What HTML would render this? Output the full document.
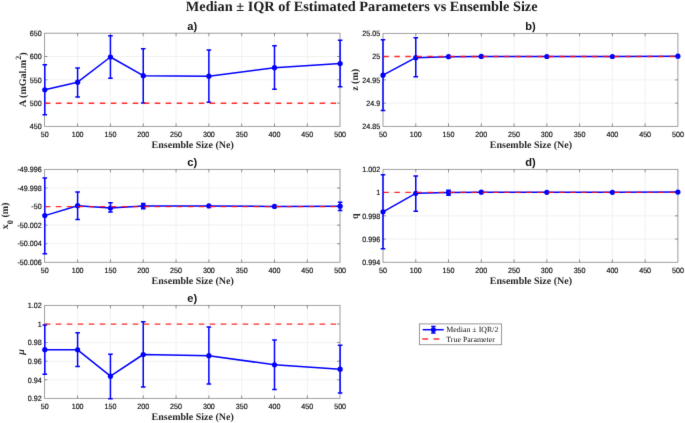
<!DOCTYPE html>
<html><head><meta charset="utf-8"><title>Median ± IQR of Estimated Parameters vs Ensemble Size</title>
<style>html,body{margin:0;padding:0;background:#fff}svg{display:block}</style></head>
<body>
<svg width="685" height="423" viewBox="0 0 685 423">
<defs><filter id="soft" x="0" y="0" width="685" height="423" filterUnits="userSpaceOnUse" color-interpolation-filters="sRGB"><feConvolveMatrix order="3" kernelMatrix="0.0064 0.0672 0.0064 0.0672 0.7056 0.0672 0.0064 0.0672 0.0064" edgeMode="duplicate" preserveAlpha="true"/></filter></defs>
<rect width="685" height="423" fill="#fff"/>
<g filter="url(#soft)" text-rendering="geometricPrecision">
<rect width="685" height="423" fill="#fff"/>
<text x="361.7" y="11.3" text-anchor="middle" font-family="'Liberation Serif',serif" font-weight="bold" font-size="14.3" fill="#1a1a1a">Median ± IQR of Estimated Parameters vs Ensemble Size</text>
<g>
<line x1="44.80" y1="33.2" x2="44.80" y2="126.4" stroke="#e8e8e8" stroke-width="0.6"/>
<line x1="77.61" y1="33.2" x2="77.61" y2="126.4" stroke="#e8e8e8" stroke-width="0.6"/>
<line x1="110.43" y1="33.2" x2="110.43" y2="126.4" stroke="#e8e8e8" stroke-width="0.6"/>
<line x1="143.24" y1="33.2" x2="143.24" y2="126.4" stroke="#e8e8e8" stroke-width="0.6"/>
<line x1="176.05" y1="33.2" x2="176.05" y2="126.4" stroke="#e8e8e8" stroke-width="0.6"/>
<line x1="208.87" y1="33.2" x2="208.87" y2="126.4" stroke="#e8e8e8" stroke-width="0.6"/>
<line x1="241.68" y1="33.2" x2="241.68" y2="126.4" stroke="#e8e8e8" stroke-width="0.6"/>
<line x1="274.49" y1="33.2" x2="274.49" y2="126.4" stroke="#e8e8e8" stroke-width="0.6"/>
<line x1="307.31" y1="33.2" x2="307.31" y2="126.4" stroke="#e8e8e8" stroke-width="0.6"/>
<line x1="340.12" y1="33.2" x2="340.12" y2="126.4" stroke="#e8e8e8" stroke-width="0.6"/>
<line x1="44.5" y1="126.40" x2="340.0" y2="126.40" stroke="#e8e8e8" stroke-width="0.6"/>
<line x1="44.5" y1="103.10" x2="340.0" y2="103.10" stroke="#e8e8e8" stroke-width="0.6"/>
<line x1="44.5" y1="79.80" x2="340.0" y2="79.80" stroke="#e8e8e8" stroke-width="0.6"/>
<line x1="44.5" y1="56.50" x2="340.0" y2="56.50" stroke="#e8e8e8" stroke-width="0.6"/>
<line x1="44.5" y1="33.20" x2="340.0" y2="33.20" stroke="#e8e8e8" stroke-width="0.6"/>
<rect x="44.5" y="33.2" width="295.5" height="93.2" fill="none" stroke="#9a9a9a" stroke-width="0.9"/>
<text transform="translate(44.80 136.6) scale(0.93 1)" text-anchor="middle" font-family="'Liberation Sans',sans-serif" font-size="7.7" fill="#101010" stroke="#101010" stroke-width="0.18">50</text>
<line x1="77.61" y1="126.4" x2="77.61" y2="123.4" stroke="#262626" stroke-width="0.48"/>
<line x1="77.61" y1="33.2" x2="77.61" y2="36.2" stroke="#262626" stroke-width="0.48"/>
<text transform="translate(77.61 136.6) scale(0.93 1)" text-anchor="middle" font-family="'Liberation Sans',sans-serif" font-size="7.7" fill="#101010" stroke="#101010" stroke-width="0.18">100</text>
<line x1="110.43" y1="126.4" x2="110.43" y2="123.4" stroke="#262626" stroke-width="0.48"/>
<line x1="110.43" y1="33.2" x2="110.43" y2="36.2" stroke="#262626" stroke-width="0.48"/>
<text transform="translate(110.43 136.6) scale(0.93 1)" text-anchor="middle" font-family="'Liberation Sans',sans-serif" font-size="7.7" fill="#101010" stroke="#101010" stroke-width="0.18">150</text>
<line x1="143.24" y1="126.4" x2="143.24" y2="123.4" stroke="#262626" stroke-width="0.48"/>
<line x1="143.24" y1="33.2" x2="143.24" y2="36.2" stroke="#262626" stroke-width="0.48"/>
<text transform="translate(143.24 136.6) scale(0.93 1)" text-anchor="middle" font-family="'Liberation Sans',sans-serif" font-size="7.7" fill="#101010" stroke="#101010" stroke-width="0.18">200</text>
<line x1="176.05" y1="126.4" x2="176.05" y2="123.4" stroke="#262626" stroke-width="0.48"/>
<line x1="176.05" y1="33.2" x2="176.05" y2="36.2" stroke="#262626" stroke-width="0.48"/>
<text transform="translate(176.05 136.6) scale(0.93 1)" text-anchor="middle" font-family="'Liberation Sans',sans-serif" font-size="7.7" fill="#101010" stroke="#101010" stroke-width="0.18">250</text>
<line x1="208.87" y1="126.4" x2="208.87" y2="123.4" stroke="#262626" stroke-width="0.48"/>
<line x1="208.87" y1="33.2" x2="208.87" y2="36.2" stroke="#262626" stroke-width="0.48"/>
<text transform="translate(208.87 136.6) scale(0.93 1)" text-anchor="middle" font-family="'Liberation Sans',sans-serif" font-size="7.7" fill="#101010" stroke="#101010" stroke-width="0.18">300</text>
<line x1="241.68" y1="126.4" x2="241.68" y2="123.4" stroke="#262626" stroke-width="0.48"/>
<line x1="241.68" y1="33.2" x2="241.68" y2="36.2" stroke="#262626" stroke-width="0.48"/>
<text transform="translate(241.68 136.6) scale(0.93 1)" text-anchor="middle" font-family="'Liberation Sans',sans-serif" font-size="7.7" fill="#101010" stroke="#101010" stroke-width="0.18">350</text>
<line x1="274.49" y1="126.4" x2="274.49" y2="123.4" stroke="#262626" stroke-width="0.48"/>
<line x1="274.49" y1="33.2" x2="274.49" y2="36.2" stroke="#262626" stroke-width="0.48"/>
<text transform="translate(274.49 136.6) scale(0.93 1)" text-anchor="middle" font-family="'Liberation Sans',sans-serif" font-size="7.7" fill="#101010" stroke="#101010" stroke-width="0.18">400</text>
<line x1="307.31" y1="126.4" x2="307.31" y2="123.4" stroke="#262626" stroke-width="0.48"/>
<line x1="307.31" y1="33.2" x2="307.31" y2="36.2" stroke="#262626" stroke-width="0.48"/>
<text transform="translate(307.31 136.6) scale(0.93 1)" text-anchor="middle" font-family="'Liberation Sans',sans-serif" font-size="7.7" fill="#101010" stroke="#101010" stroke-width="0.18">450</text>
<text transform="translate(340.12 136.6) scale(0.93 1)" text-anchor="middle" font-family="'Liberation Sans',sans-serif" font-size="7.7" fill="#101010" stroke="#101010" stroke-width="0.18">500</text>
<text transform="translate(41.7 129.10) scale(0.93 1)" text-anchor="end" font-family="'Liberation Sans',sans-serif" font-size="7.7" fill="#101010" stroke="#101010" stroke-width="0.18">450</text>
<line x1="44.5" y1="103.10" x2="47.5" y2="103.10" stroke="#262626" stroke-width="0.48"/>
<line x1="340.0" y1="103.10" x2="337.0" y2="103.10" stroke="#262626" stroke-width="0.48"/>
<text transform="translate(41.7 105.80) scale(0.93 1)" text-anchor="end" font-family="'Liberation Sans',sans-serif" font-size="7.7" fill="#101010" stroke="#101010" stroke-width="0.18">500</text>
<line x1="44.5" y1="79.80" x2="47.5" y2="79.80" stroke="#262626" stroke-width="0.48"/>
<line x1="340.0" y1="79.80" x2="337.0" y2="79.80" stroke="#262626" stroke-width="0.48"/>
<text transform="translate(41.7 82.50) scale(0.93 1)" text-anchor="end" font-family="'Liberation Sans',sans-serif" font-size="7.7" fill="#101010" stroke="#101010" stroke-width="0.18">550</text>
<line x1="44.5" y1="56.50" x2="47.5" y2="56.50" stroke="#262626" stroke-width="0.48"/>
<line x1="340.0" y1="56.50" x2="337.0" y2="56.50" stroke="#262626" stroke-width="0.48"/>
<text transform="translate(41.7 59.20) scale(0.93 1)" text-anchor="end" font-family="'Liberation Sans',sans-serif" font-size="7.7" fill="#101010" stroke="#101010" stroke-width="0.18">600</text>
<text transform="translate(41.7 35.90) scale(0.93 1)" text-anchor="end" font-family="'Liberation Sans',sans-serif" font-size="7.7" fill="#101010" stroke="#101010" stroke-width="0.18">650</text>
<path d="M44.80 64.8V114.7M42.50 64.8H47.10M42.50 114.7H47.10" stroke="#0000ff" stroke-width="1.5" fill="none"/>
<path d="M77.61 68.1V96.9M75.31 68.1H79.91M75.31 96.9H79.91" stroke="#0000ff" stroke-width="1.5" fill="none"/>
<path d="M110.43 35.7V78.3M108.13 35.7H112.73M108.13 78.3H112.73" stroke="#0000ff" stroke-width="1.5" fill="none"/>
<path d="M143.24 48.7V103M140.94 48.7H145.54M140.94 103H145.54" stroke="#0000ff" stroke-width="1.5" fill="none"/>
<path d="M208.87 50V102.3M206.57 50H211.17M206.57 102.3H211.17" stroke="#0000ff" stroke-width="1.5" fill="none"/>
<path d="M274.49 45.8V89.3M272.19 45.8H276.79M272.19 89.3H276.79" stroke="#0000ff" stroke-width="1.5" fill="none"/>
<path d="M340.12 40.3V86.7M337.82 40.3H342.42M337.82 86.7H342.42" stroke="#0000ff" stroke-width="1.5" fill="none"/>
<polyline points="44.80,89.8 77.61,82.2 110.43,57 143.24,75.7 208.87,76.2 274.49,67.7 340.12,63.5" fill="none" stroke="#0000ff" stroke-width="1.5" stroke-linejoin="round"/>
<circle cx="44.80" cy="89.8" r="2.6" fill="#0000ff"/>
<circle cx="77.61" cy="82.2" r="2.6" fill="#0000ff"/>
<circle cx="110.43" cy="57" r="2.6" fill="#0000ff"/>
<circle cx="143.24" cy="75.7" r="2.6" fill="#0000ff"/>
<circle cx="208.87" cy="76.2" r="2.6" fill="#0000ff"/>
<circle cx="274.49" cy="67.7" r="2.6" fill="#0000ff"/>
<circle cx="340.12" cy="63.5" r="2.6" fill="#0000ff"/>
<line x1="44.85" y1="103.25" x2="340.0" y2="103.25" stroke="#ff0c0c" stroke-opacity="0.86" stroke-width="1.3" stroke-dasharray="5.5 5.49"/>
<text x="192.2" y="29.9" text-anchor="middle" font-family="'Liberation Sans',sans-serif" font-weight="bold" font-size="11.1" fill="#111">a)</text>
<text x="192.7" y="147.9" text-anchor="middle" font-family="'Liberation Serif',serif" font-weight="bold" font-size="10" fill="#262626">Ensemble Size (Ne)</text>
<text transform="translate(25.5 79.8) rotate(-90)" text-anchor="middle" font-family="'Liberation Serif',serif" font-weight="bold" font-size="10" fill="#262626">A (mGal.m<tspan dy="-4.8" font-size="8">2</tspan><tspan dy="4.8">)</tspan></text>
</g>
<g>
<line x1="383.00" y1="33.4" x2="383.00" y2="126.4" stroke="#e8e8e8" stroke-width="0.6"/>
<line x1="415.77" y1="33.4" x2="415.77" y2="126.4" stroke="#e8e8e8" stroke-width="0.6"/>
<line x1="448.53" y1="33.4" x2="448.53" y2="126.4" stroke="#e8e8e8" stroke-width="0.6"/>
<line x1="481.30" y1="33.4" x2="481.30" y2="126.4" stroke="#e8e8e8" stroke-width="0.6"/>
<line x1="514.07" y1="33.4" x2="514.07" y2="126.4" stroke="#e8e8e8" stroke-width="0.6"/>
<line x1="546.83" y1="33.4" x2="546.83" y2="126.4" stroke="#e8e8e8" stroke-width="0.6"/>
<line x1="579.60" y1="33.4" x2="579.60" y2="126.4" stroke="#e8e8e8" stroke-width="0.6"/>
<line x1="612.37" y1="33.4" x2="612.37" y2="126.4" stroke="#e8e8e8" stroke-width="0.6"/>
<line x1="645.13" y1="33.4" x2="645.13" y2="126.4" stroke="#e8e8e8" stroke-width="0.6"/>
<line x1="677.90" y1="33.4" x2="677.90" y2="126.4" stroke="#e8e8e8" stroke-width="0.6"/>
<line x1="383.0" y1="126.40" x2="677.9" y2="126.40" stroke="#e8e8e8" stroke-width="0.6"/>
<line x1="383.0" y1="103.15" x2="677.9" y2="103.15" stroke="#e8e8e8" stroke-width="0.6"/>
<line x1="383.0" y1="79.90" x2="677.9" y2="79.90" stroke="#e8e8e8" stroke-width="0.6"/>
<line x1="383.0" y1="56.65" x2="677.9" y2="56.65" stroke="#e8e8e8" stroke-width="0.6"/>
<line x1="383.0" y1="33.40" x2="677.9" y2="33.40" stroke="#e8e8e8" stroke-width="0.6"/>
<rect x="383.0" y="33.4" width="294.9" height="93.0" fill="none" stroke="#9a9a9a" stroke-width="0.9"/>
<text transform="translate(383.00 136.6) scale(0.93 1)" text-anchor="middle" font-family="'Liberation Sans',sans-serif" font-size="7.7" fill="#101010" stroke="#101010" stroke-width="0.18">50</text>
<line x1="415.77" y1="126.4" x2="415.77" y2="123.4" stroke="#262626" stroke-width="0.48"/>
<line x1="415.77" y1="33.4" x2="415.77" y2="36.4" stroke="#262626" stroke-width="0.48"/>
<text transform="translate(415.77 136.6) scale(0.93 1)" text-anchor="middle" font-family="'Liberation Sans',sans-serif" font-size="7.7" fill="#101010" stroke="#101010" stroke-width="0.18">100</text>
<line x1="448.53" y1="126.4" x2="448.53" y2="123.4" stroke="#262626" stroke-width="0.48"/>
<line x1="448.53" y1="33.4" x2="448.53" y2="36.4" stroke="#262626" stroke-width="0.48"/>
<text transform="translate(448.53 136.6) scale(0.93 1)" text-anchor="middle" font-family="'Liberation Sans',sans-serif" font-size="7.7" fill="#101010" stroke="#101010" stroke-width="0.18">150</text>
<line x1="481.30" y1="126.4" x2="481.30" y2="123.4" stroke="#262626" stroke-width="0.48"/>
<line x1="481.30" y1="33.4" x2="481.30" y2="36.4" stroke="#262626" stroke-width="0.48"/>
<text transform="translate(481.30 136.6) scale(0.93 1)" text-anchor="middle" font-family="'Liberation Sans',sans-serif" font-size="7.7" fill="#101010" stroke="#101010" stroke-width="0.18">200</text>
<line x1="514.07" y1="126.4" x2="514.07" y2="123.4" stroke="#262626" stroke-width="0.48"/>
<line x1="514.07" y1="33.4" x2="514.07" y2="36.4" stroke="#262626" stroke-width="0.48"/>
<text transform="translate(514.07 136.6) scale(0.93 1)" text-anchor="middle" font-family="'Liberation Sans',sans-serif" font-size="7.7" fill="#101010" stroke="#101010" stroke-width="0.18">250</text>
<line x1="546.83" y1="126.4" x2="546.83" y2="123.4" stroke="#262626" stroke-width="0.48"/>
<line x1="546.83" y1="33.4" x2="546.83" y2="36.4" stroke="#262626" stroke-width="0.48"/>
<text transform="translate(546.83 136.6) scale(0.93 1)" text-anchor="middle" font-family="'Liberation Sans',sans-serif" font-size="7.7" fill="#101010" stroke="#101010" stroke-width="0.18">300</text>
<line x1="579.60" y1="126.4" x2="579.60" y2="123.4" stroke="#262626" stroke-width="0.48"/>
<line x1="579.60" y1="33.4" x2="579.60" y2="36.4" stroke="#262626" stroke-width="0.48"/>
<text transform="translate(579.60 136.6) scale(0.93 1)" text-anchor="middle" font-family="'Liberation Sans',sans-serif" font-size="7.7" fill="#101010" stroke="#101010" stroke-width="0.18">350</text>
<line x1="612.37" y1="126.4" x2="612.37" y2="123.4" stroke="#262626" stroke-width="0.48"/>
<line x1="612.37" y1="33.4" x2="612.37" y2="36.4" stroke="#262626" stroke-width="0.48"/>
<text transform="translate(612.37 136.6) scale(0.93 1)" text-anchor="middle" font-family="'Liberation Sans',sans-serif" font-size="7.7" fill="#101010" stroke="#101010" stroke-width="0.18">400</text>
<line x1="645.13" y1="126.4" x2="645.13" y2="123.4" stroke="#262626" stroke-width="0.48"/>
<line x1="645.13" y1="33.4" x2="645.13" y2="36.4" stroke="#262626" stroke-width="0.48"/>
<text transform="translate(645.13 136.6) scale(0.93 1)" text-anchor="middle" font-family="'Liberation Sans',sans-serif" font-size="7.7" fill="#101010" stroke="#101010" stroke-width="0.18">450</text>
<text transform="translate(677.90 136.6) scale(0.93 1)" text-anchor="middle" font-family="'Liberation Sans',sans-serif" font-size="7.7" fill="#101010" stroke="#101010" stroke-width="0.18">500</text>
<text transform="translate(380.2 129.10) scale(0.93 1)" text-anchor="end" font-family="'Liberation Sans',sans-serif" font-size="7.7" fill="#101010" stroke="#101010" stroke-width="0.18">24.85</text>
<line x1="383.0" y1="103.15" x2="386.0" y2="103.15" stroke="#262626" stroke-width="0.48"/>
<line x1="677.9" y1="103.15" x2="674.9" y2="103.15" stroke="#262626" stroke-width="0.48"/>
<text transform="translate(380.2 105.85) scale(0.93 1)" text-anchor="end" font-family="'Liberation Sans',sans-serif" font-size="7.7" fill="#101010" stroke="#101010" stroke-width="0.18">24.9</text>
<line x1="383.0" y1="79.90" x2="386.0" y2="79.90" stroke="#262626" stroke-width="0.48"/>
<line x1="677.9" y1="79.90" x2="674.9" y2="79.90" stroke="#262626" stroke-width="0.48"/>
<text transform="translate(380.2 82.60) scale(0.93 1)" text-anchor="end" font-family="'Liberation Sans',sans-serif" font-size="7.7" fill="#101010" stroke="#101010" stroke-width="0.18">24.95</text>
<line x1="383.0" y1="56.65" x2="386.0" y2="56.65" stroke="#262626" stroke-width="0.48"/>
<line x1="677.9" y1="56.65" x2="674.9" y2="56.65" stroke="#262626" stroke-width="0.48"/>
<text transform="translate(380.2 59.35) scale(0.93 1)" text-anchor="end" font-family="'Liberation Sans',sans-serif" font-size="7.7" fill="#101010" stroke="#101010" stroke-width="0.18">25</text>
<text transform="translate(380.2 36.10) scale(0.93 1)" text-anchor="end" font-family="'Liberation Sans',sans-serif" font-size="7.7" fill="#101010" stroke="#101010" stroke-width="0.18">25.05</text>
<path d="M383.00 39.8V110.6M380.70 39.8H385.30M380.70 110.6H385.30" stroke="#0000ff" stroke-width="1.5" fill="none"/>
<path d="M415.77 37.8V76.8M413.47 37.8H418.07M413.47 76.8H418.07" stroke="#0000ff" stroke-width="1.5" fill="none"/>
<polyline points="383.00,75.2 415.77,57.7 448.53,56.7 481.30,56.4 546.83,56.5 612.37,56.5 677.90,56.2" fill="none" stroke="#0000ff" stroke-width="1.5" stroke-linejoin="round"/>
<circle cx="383.00" cy="75.2" r="2.6" fill="#0000ff"/>
<circle cx="415.77" cy="57.7" r="2.6" fill="#0000ff"/>
<circle cx="448.53" cy="56.7" r="2.6" fill="#0000ff"/>
<circle cx="481.30" cy="56.4" r="2.6" fill="#0000ff"/>
<circle cx="546.83" cy="56.5" r="2.6" fill="#0000ff"/>
<circle cx="612.37" cy="56.5" r="2.6" fill="#0000ff"/>
<circle cx="677.90" cy="56.2" r="2.6" fill="#0000ff"/>
<line x1="383.35" y1="56.50" x2="677.9" y2="56.50" stroke="#ff0c0c" stroke-opacity="0.86" stroke-width="1.3" stroke-dasharray="5.5 5.49"/>
<text x="530.5" y="30.1" text-anchor="middle" font-family="'Liberation Sans',sans-serif" font-weight="bold" font-size="11.1" fill="#111">b)</text>
<text x="530.9" y="147.9" text-anchor="middle" font-family="'Liberation Serif',serif" font-weight="bold" font-size="10" fill="#262626">Ensemble Size (Ne)</text>
<text transform="translate(357.7 79.9) rotate(-90)" text-anchor="middle" font-family="'Liberation Serif',serif" font-weight="bold" font-size="10" fill="#262626">z (m)</text>
</g>
<g>
<line x1="44.80" y1="169.4" x2="44.80" y2="262.3" stroke="#e8e8e8" stroke-width="0.6"/>
<line x1="77.61" y1="169.4" x2="77.61" y2="262.3" stroke="#e8e8e8" stroke-width="0.6"/>
<line x1="110.43" y1="169.4" x2="110.43" y2="262.3" stroke="#e8e8e8" stroke-width="0.6"/>
<line x1="143.24" y1="169.4" x2="143.24" y2="262.3" stroke="#e8e8e8" stroke-width="0.6"/>
<line x1="176.05" y1="169.4" x2="176.05" y2="262.3" stroke="#e8e8e8" stroke-width="0.6"/>
<line x1="208.87" y1="169.4" x2="208.87" y2="262.3" stroke="#e8e8e8" stroke-width="0.6"/>
<line x1="241.68" y1="169.4" x2="241.68" y2="262.3" stroke="#e8e8e8" stroke-width="0.6"/>
<line x1="274.49" y1="169.4" x2="274.49" y2="262.3" stroke="#e8e8e8" stroke-width="0.6"/>
<line x1="307.31" y1="169.4" x2="307.31" y2="262.3" stroke="#e8e8e8" stroke-width="0.6"/>
<line x1="340.12" y1="169.4" x2="340.12" y2="262.3" stroke="#e8e8e8" stroke-width="0.6"/>
<line x1="44.5" y1="262.30" x2="340.0" y2="262.30" stroke="#e8e8e8" stroke-width="0.6"/>
<line x1="44.5" y1="243.72" x2="340.0" y2="243.72" stroke="#e8e8e8" stroke-width="0.6"/>
<line x1="44.5" y1="225.14" x2="340.0" y2="225.14" stroke="#e8e8e8" stroke-width="0.6"/>
<line x1="44.5" y1="206.56" x2="340.0" y2="206.56" stroke="#e8e8e8" stroke-width="0.6"/>
<line x1="44.5" y1="187.98" x2="340.0" y2="187.98" stroke="#e8e8e8" stroke-width="0.6"/>
<line x1="44.5" y1="169.40" x2="340.0" y2="169.40" stroke="#e8e8e8" stroke-width="0.6"/>
<rect x="44.5" y="169.4" width="295.5" height="92.9" fill="none" stroke="#9a9a9a" stroke-width="0.9"/>
<text transform="translate(44.80 272.5) scale(0.93 1)" text-anchor="middle" font-family="'Liberation Sans',sans-serif" font-size="7.7" fill="#101010" stroke="#101010" stroke-width="0.18">50</text>
<line x1="77.61" y1="262.3" x2="77.61" y2="259.3" stroke="#262626" stroke-width="0.48"/>
<line x1="77.61" y1="169.4" x2="77.61" y2="172.4" stroke="#262626" stroke-width="0.48"/>
<text transform="translate(77.61 272.5) scale(0.93 1)" text-anchor="middle" font-family="'Liberation Sans',sans-serif" font-size="7.7" fill="#101010" stroke="#101010" stroke-width="0.18">100</text>
<line x1="110.43" y1="262.3" x2="110.43" y2="259.3" stroke="#262626" stroke-width="0.48"/>
<line x1="110.43" y1="169.4" x2="110.43" y2="172.4" stroke="#262626" stroke-width="0.48"/>
<text transform="translate(110.43 272.5) scale(0.93 1)" text-anchor="middle" font-family="'Liberation Sans',sans-serif" font-size="7.7" fill="#101010" stroke="#101010" stroke-width="0.18">150</text>
<line x1="143.24" y1="262.3" x2="143.24" y2="259.3" stroke="#262626" stroke-width="0.48"/>
<line x1="143.24" y1="169.4" x2="143.24" y2="172.4" stroke="#262626" stroke-width="0.48"/>
<text transform="translate(143.24 272.5) scale(0.93 1)" text-anchor="middle" font-family="'Liberation Sans',sans-serif" font-size="7.7" fill="#101010" stroke="#101010" stroke-width="0.18">200</text>
<line x1="176.05" y1="262.3" x2="176.05" y2="259.3" stroke="#262626" stroke-width="0.48"/>
<line x1="176.05" y1="169.4" x2="176.05" y2="172.4" stroke="#262626" stroke-width="0.48"/>
<text transform="translate(176.05 272.5) scale(0.93 1)" text-anchor="middle" font-family="'Liberation Sans',sans-serif" font-size="7.7" fill="#101010" stroke="#101010" stroke-width="0.18">250</text>
<line x1="208.87" y1="262.3" x2="208.87" y2="259.3" stroke="#262626" stroke-width="0.48"/>
<line x1="208.87" y1="169.4" x2="208.87" y2="172.4" stroke="#262626" stroke-width="0.48"/>
<text transform="translate(208.87 272.5) scale(0.93 1)" text-anchor="middle" font-family="'Liberation Sans',sans-serif" font-size="7.7" fill="#101010" stroke="#101010" stroke-width="0.18">300</text>
<line x1="241.68" y1="262.3" x2="241.68" y2="259.3" stroke="#262626" stroke-width="0.48"/>
<line x1="241.68" y1="169.4" x2="241.68" y2="172.4" stroke="#262626" stroke-width="0.48"/>
<text transform="translate(241.68 272.5) scale(0.93 1)" text-anchor="middle" font-family="'Liberation Sans',sans-serif" font-size="7.7" fill="#101010" stroke="#101010" stroke-width="0.18">350</text>
<line x1="274.49" y1="262.3" x2="274.49" y2="259.3" stroke="#262626" stroke-width="0.48"/>
<line x1="274.49" y1="169.4" x2="274.49" y2="172.4" stroke="#262626" stroke-width="0.48"/>
<text transform="translate(274.49 272.5) scale(0.93 1)" text-anchor="middle" font-family="'Liberation Sans',sans-serif" font-size="7.7" fill="#101010" stroke="#101010" stroke-width="0.18">400</text>
<line x1="307.31" y1="262.3" x2="307.31" y2="259.3" stroke="#262626" stroke-width="0.48"/>
<line x1="307.31" y1="169.4" x2="307.31" y2="172.4" stroke="#262626" stroke-width="0.48"/>
<text transform="translate(307.31 272.5) scale(0.93 1)" text-anchor="middle" font-family="'Liberation Sans',sans-serif" font-size="7.7" fill="#101010" stroke="#101010" stroke-width="0.18">450</text>
<text transform="translate(340.12 272.5) scale(0.93 1)" text-anchor="middle" font-family="'Liberation Sans',sans-serif" font-size="7.7" fill="#101010" stroke="#101010" stroke-width="0.18">500</text>
<text transform="translate(41.7 265.00) scale(0.93 1)" text-anchor="end" font-family="'Liberation Sans',sans-serif" font-size="7.7" fill="#101010" stroke="#101010" stroke-width="0.18">-50.006</text>
<line x1="44.5" y1="243.72" x2="47.5" y2="243.72" stroke="#262626" stroke-width="0.48"/>
<line x1="340.0" y1="243.72" x2="337.0" y2="243.72" stroke="#262626" stroke-width="0.48"/>
<text transform="translate(41.7 246.42) scale(0.93 1)" text-anchor="end" font-family="'Liberation Sans',sans-serif" font-size="7.7" fill="#101010" stroke="#101010" stroke-width="0.18">-50.004</text>
<line x1="44.5" y1="225.14" x2="47.5" y2="225.14" stroke="#262626" stroke-width="0.48"/>
<line x1="340.0" y1="225.14" x2="337.0" y2="225.14" stroke="#262626" stroke-width="0.48"/>
<text transform="translate(41.7 227.84) scale(0.93 1)" text-anchor="end" font-family="'Liberation Sans',sans-serif" font-size="7.7" fill="#101010" stroke="#101010" stroke-width="0.18">-50.002</text>
<line x1="44.5" y1="206.56" x2="47.5" y2="206.56" stroke="#262626" stroke-width="0.48"/>
<line x1="340.0" y1="206.56" x2="337.0" y2="206.56" stroke="#262626" stroke-width="0.48"/>
<text transform="translate(41.7 209.26) scale(0.93 1)" text-anchor="end" font-family="'Liberation Sans',sans-serif" font-size="7.7" fill="#101010" stroke="#101010" stroke-width="0.18">-50</text>
<line x1="44.5" y1="187.98" x2="47.5" y2="187.98" stroke="#262626" stroke-width="0.48"/>
<line x1="340.0" y1="187.98" x2="337.0" y2="187.98" stroke="#262626" stroke-width="0.48"/>
<text transform="translate(41.7 190.68) scale(0.93 1)" text-anchor="end" font-family="'Liberation Sans',sans-serif" font-size="7.7" fill="#101010" stroke="#101010" stroke-width="0.18">-49.998</text>
<text transform="translate(41.7 172.10) scale(0.93 1)" text-anchor="end" font-family="'Liberation Sans',sans-serif" font-size="7.7" fill="#101010" stroke="#101010" stroke-width="0.18">-49.996</text>
<path d="M44.80 178V253.7M42.50 178H47.10M42.50 253.7H47.10" stroke="#0000ff" stroke-width="1.5" fill="none"/>
<path d="M77.61 192V219.4M75.31 192H79.91M75.31 219.4H79.91" stroke="#0000ff" stroke-width="1.5" fill="none"/>
<path d="M110.43 202.8V212M108.13 202.8H112.73M108.13 212H112.73" stroke="#0000ff" stroke-width="1.5" fill="none"/>
<path d="M143.24 203.5V208.7M140.94 203.5H145.54M140.94 208.7H145.54" stroke="#0000ff" stroke-width="1.5" fill="none"/>
<path d="M340.12 202.2V210.4M337.82 202.2H342.42M337.82 210.4H342.42" stroke="#0000ff" stroke-width="1.5" fill="none"/>
<polyline points="44.80,215.6 77.61,205.7 110.43,208 143.24,206.1 208.87,205.9 274.49,206.4 340.12,206.2" fill="none" stroke="#0000ff" stroke-width="1.5" stroke-linejoin="round"/>
<circle cx="44.80" cy="215.6" r="2.6" fill="#0000ff"/>
<circle cx="77.61" cy="205.7" r="2.6" fill="#0000ff"/>
<circle cx="110.43" cy="208" r="2.6" fill="#0000ff"/>
<circle cx="143.24" cy="206.1" r="2.6" fill="#0000ff"/>
<circle cx="208.87" cy="205.9" r="2.6" fill="#0000ff"/>
<circle cx="274.49" cy="206.4" r="2.6" fill="#0000ff"/>
<circle cx="340.12" cy="206.2" r="2.6" fill="#0000ff"/>
<line x1="44.85" y1="206.71" x2="340.0" y2="206.71" stroke="#ff0c0c" stroke-opacity="0.86" stroke-width="1.3" stroke-dasharray="5.5 5.49"/>
<text x="192.2" y="166.1" text-anchor="middle" font-family="'Liberation Sans',sans-serif" font-weight="bold" font-size="11.1" fill="#111">c)</text>
<text x="192.7" y="283.8" text-anchor="middle" font-family="'Liberation Serif',serif" font-weight="bold" font-size="10" fill="#262626">Ensemble Size (Ne)</text>
<text transform="translate(8.3 215.9) rotate(-90)" text-anchor="middle" font-family="'Liberation Serif',serif" font-weight="bold" font-size="10" fill="#262626">x<tspan dy="5.1" font-size="8.4">0</tspan><tspan dy="-5.1"> (m)</tspan></text>
</g>
<g>
<line x1="383.00" y1="169.4" x2="383.00" y2="262.3" stroke="#e8e8e8" stroke-width="0.6"/>
<line x1="415.77" y1="169.4" x2="415.77" y2="262.3" stroke="#e8e8e8" stroke-width="0.6"/>
<line x1="448.53" y1="169.4" x2="448.53" y2="262.3" stroke="#e8e8e8" stroke-width="0.6"/>
<line x1="481.30" y1="169.4" x2="481.30" y2="262.3" stroke="#e8e8e8" stroke-width="0.6"/>
<line x1="514.07" y1="169.4" x2="514.07" y2="262.3" stroke="#e8e8e8" stroke-width="0.6"/>
<line x1="546.83" y1="169.4" x2="546.83" y2="262.3" stroke="#e8e8e8" stroke-width="0.6"/>
<line x1="579.60" y1="169.4" x2="579.60" y2="262.3" stroke="#e8e8e8" stroke-width="0.6"/>
<line x1="612.37" y1="169.4" x2="612.37" y2="262.3" stroke="#e8e8e8" stroke-width="0.6"/>
<line x1="645.13" y1="169.4" x2="645.13" y2="262.3" stroke="#e8e8e8" stroke-width="0.6"/>
<line x1="677.90" y1="169.4" x2="677.90" y2="262.3" stroke="#e8e8e8" stroke-width="0.6"/>
<line x1="383.0" y1="262.30" x2="677.9" y2="262.30" stroke="#e8e8e8" stroke-width="0.6"/>
<line x1="383.0" y1="239.08" x2="677.9" y2="239.08" stroke="#e8e8e8" stroke-width="0.6"/>
<line x1="383.0" y1="215.85" x2="677.9" y2="215.85" stroke="#e8e8e8" stroke-width="0.6"/>
<line x1="383.0" y1="192.62" x2="677.9" y2="192.62" stroke="#e8e8e8" stroke-width="0.6"/>
<line x1="383.0" y1="169.40" x2="677.9" y2="169.40" stroke="#e8e8e8" stroke-width="0.6"/>
<rect x="383.0" y="169.4" width="294.9" height="92.9" fill="none" stroke="#9a9a9a" stroke-width="0.9"/>
<text transform="translate(383.00 272.5) scale(0.93 1)" text-anchor="middle" font-family="'Liberation Sans',sans-serif" font-size="7.7" fill="#101010" stroke="#101010" stroke-width="0.18">50</text>
<line x1="415.77" y1="262.3" x2="415.77" y2="259.3" stroke="#262626" stroke-width="0.48"/>
<line x1="415.77" y1="169.4" x2="415.77" y2="172.4" stroke="#262626" stroke-width="0.48"/>
<text transform="translate(415.77 272.5) scale(0.93 1)" text-anchor="middle" font-family="'Liberation Sans',sans-serif" font-size="7.7" fill="#101010" stroke="#101010" stroke-width="0.18">100</text>
<line x1="448.53" y1="262.3" x2="448.53" y2="259.3" stroke="#262626" stroke-width="0.48"/>
<line x1="448.53" y1="169.4" x2="448.53" y2="172.4" stroke="#262626" stroke-width="0.48"/>
<text transform="translate(448.53 272.5) scale(0.93 1)" text-anchor="middle" font-family="'Liberation Sans',sans-serif" font-size="7.7" fill="#101010" stroke="#101010" stroke-width="0.18">150</text>
<line x1="481.30" y1="262.3" x2="481.30" y2="259.3" stroke="#262626" stroke-width="0.48"/>
<line x1="481.30" y1="169.4" x2="481.30" y2="172.4" stroke="#262626" stroke-width="0.48"/>
<text transform="translate(481.30 272.5) scale(0.93 1)" text-anchor="middle" font-family="'Liberation Sans',sans-serif" font-size="7.7" fill="#101010" stroke="#101010" stroke-width="0.18">200</text>
<line x1="514.07" y1="262.3" x2="514.07" y2="259.3" stroke="#262626" stroke-width="0.48"/>
<line x1="514.07" y1="169.4" x2="514.07" y2="172.4" stroke="#262626" stroke-width="0.48"/>
<text transform="translate(514.07 272.5) scale(0.93 1)" text-anchor="middle" font-family="'Liberation Sans',sans-serif" font-size="7.7" fill="#101010" stroke="#101010" stroke-width="0.18">250</text>
<line x1="546.83" y1="262.3" x2="546.83" y2="259.3" stroke="#262626" stroke-width="0.48"/>
<line x1="546.83" y1="169.4" x2="546.83" y2="172.4" stroke="#262626" stroke-width="0.48"/>
<text transform="translate(546.83 272.5) scale(0.93 1)" text-anchor="middle" font-family="'Liberation Sans',sans-serif" font-size="7.7" fill="#101010" stroke="#101010" stroke-width="0.18">300</text>
<line x1="579.60" y1="262.3" x2="579.60" y2="259.3" stroke="#262626" stroke-width="0.48"/>
<line x1="579.60" y1="169.4" x2="579.60" y2="172.4" stroke="#262626" stroke-width="0.48"/>
<text transform="translate(579.60 272.5) scale(0.93 1)" text-anchor="middle" font-family="'Liberation Sans',sans-serif" font-size="7.7" fill="#101010" stroke="#101010" stroke-width="0.18">350</text>
<line x1="612.37" y1="262.3" x2="612.37" y2="259.3" stroke="#262626" stroke-width="0.48"/>
<line x1="612.37" y1="169.4" x2="612.37" y2="172.4" stroke="#262626" stroke-width="0.48"/>
<text transform="translate(612.37 272.5) scale(0.93 1)" text-anchor="middle" font-family="'Liberation Sans',sans-serif" font-size="7.7" fill="#101010" stroke="#101010" stroke-width="0.18">400</text>
<line x1="645.13" y1="262.3" x2="645.13" y2="259.3" stroke="#262626" stroke-width="0.48"/>
<line x1="645.13" y1="169.4" x2="645.13" y2="172.4" stroke="#262626" stroke-width="0.48"/>
<text transform="translate(645.13 272.5) scale(0.93 1)" text-anchor="middle" font-family="'Liberation Sans',sans-serif" font-size="7.7" fill="#101010" stroke="#101010" stroke-width="0.18">450</text>
<text transform="translate(677.90 272.5) scale(0.93 1)" text-anchor="middle" font-family="'Liberation Sans',sans-serif" font-size="7.7" fill="#101010" stroke="#101010" stroke-width="0.18">500</text>
<text transform="translate(380.2 265.00) scale(0.93 1)" text-anchor="end" font-family="'Liberation Sans',sans-serif" font-size="7.7" fill="#101010" stroke="#101010" stroke-width="0.18">0.994</text>
<line x1="383.0" y1="239.08" x2="386.0" y2="239.08" stroke="#262626" stroke-width="0.48"/>
<line x1="677.9" y1="239.08" x2="674.9" y2="239.08" stroke="#262626" stroke-width="0.48"/>
<text transform="translate(380.2 241.78) scale(0.93 1)" text-anchor="end" font-family="'Liberation Sans',sans-serif" font-size="7.7" fill="#101010" stroke="#101010" stroke-width="0.18">0.996</text>
<line x1="383.0" y1="215.85" x2="386.0" y2="215.85" stroke="#262626" stroke-width="0.48"/>
<line x1="677.9" y1="215.85" x2="674.9" y2="215.85" stroke="#262626" stroke-width="0.48"/>
<text transform="translate(380.2 218.55) scale(0.93 1)" text-anchor="end" font-family="'Liberation Sans',sans-serif" font-size="7.7" fill="#101010" stroke="#101010" stroke-width="0.18">0.998</text>
<line x1="383.0" y1="192.62" x2="386.0" y2="192.62" stroke="#262626" stroke-width="0.48"/>
<line x1="677.9" y1="192.62" x2="674.9" y2="192.62" stroke="#262626" stroke-width="0.48"/>
<text transform="translate(380.2 195.32) scale(0.93 1)" text-anchor="end" font-family="'Liberation Sans',sans-serif" font-size="7.7" fill="#101010" stroke="#101010" stroke-width="0.18">1</text>
<text transform="translate(380.2 172.10) scale(0.93 1)" text-anchor="end" font-family="'Liberation Sans',sans-serif" font-size="7.7" fill="#101010" stroke="#101010" stroke-width="0.18">1.002</text>
<path d="M383.00 174.8V248.8M380.70 174.8H385.30M380.70 248.8H385.30" stroke="#0000ff" stroke-width="1.5" fill="none"/>
<path d="M415.77 175.9V211.3M413.47 175.9H418.07M413.47 211.3H418.07" stroke="#0000ff" stroke-width="1.5" fill="none"/>
<path d="M448.53 190.3V195.2M446.23 190.3H450.83M446.23 195.2H450.83" stroke="#0000ff" stroke-width="1.5" fill="none"/>
<polyline points="383.00,211.8 415.77,193.3 448.53,192.5 481.30,192.2 546.83,192.3 612.37,192.3 677.90,192.1" fill="none" stroke="#0000ff" stroke-width="1.5" stroke-linejoin="round"/>
<circle cx="383.00" cy="211.8" r="2.6" fill="#0000ff"/>
<circle cx="415.77" cy="193.3" r="2.6" fill="#0000ff"/>
<circle cx="448.53" cy="192.5" r="2.6" fill="#0000ff"/>
<circle cx="481.30" cy="192.2" r="2.6" fill="#0000ff"/>
<circle cx="546.83" cy="192.3" r="2.6" fill="#0000ff"/>
<circle cx="612.37" cy="192.3" r="2.6" fill="#0000ff"/>
<circle cx="677.90" cy="192.1" r="2.6" fill="#0000ff"/>
<line x1="383.35" y1="192.47" x2="677.9" y2="192.47" stroke="#ff0c0c" stroke-opacity="0.86" stroke-width="1.3" stroke-dasharray="5.5 5.49"/>
<text x="530.5" y="166.1" text-anchor="middle" font-family="'Liberation Sans',sans-serif" font-weight="bold" font-size="11.1" fill="#111">d)</text>
<text x="530.9" y="283.8" text-anchor="middle" font-family="'Liberation Serif',serif" font-weight="bold" font-size="10" fill="#262626">Ensemble Size (Ne)</text>
<text transform="translate(357.9 216.3) rotate(-90)" text-anchor="middle" font-family="'Liberation Serif',serif" font-weight="bold" font-size="10" fill="#262626">q</text>
</g>
<g>
<line x1="44.80" y1="305.4" x2="44.80" y2="398.4" stroke="#e8e8e8" stroke-width="0.6"/>
<line x1="77.61" y1="305.4" x2="77.61" y2="398.4" stroke="#e8e8e8" stroke-width="0.6"/>
<line x1="110.43" y1="305.4" x2="110.43" y2="398.4" stroke="#e8e8e8" stroke-width="0.6"/>
<line x1="143.24" y1="305.4" x2="143.24" y2="398.4" stroke="#e8e8e8" stroke-width="0.6"/>
<line x1="176.05" y1="305.4" x2="176.05" y2="398.4" stroke="#e8e8e8" stroke-width="0.6"/>
<line x1="208.87" y1="305.4" x2="208.87" y2="398.4" stroke="#e8e8e8" stroke-width="0.6"/>
<line x1="241.68" y1="305.4" x2="241.68" y2="398.4" stroke="#e8e8e8" stroke-width="0.6"/>
<line x1="274.49" y1="305.4" x2="274.49" y2="398.4" stroke="#e8e8e8" stroke-width="0.6"/>
<line x1="307.31" y1="305.4" x2="307.31" y2="398.4" stroke="#e8e8e8" stroke-width="0.6"/>
<line x1="340.12" y1="305.4" x2="340.12" y2="398.4" stroke="#e8e8e8" stroke-width="0.6"/>
<line x1="44.5" y1="398.40" x2="340.0" y2="398.40" stroke="#e8e8e8" stroke-width="0.6"/>
<line x1="44.5" y1="379.80" x2="340.0" y2="379.80" stroke="#e8e8e8" stroke-width="0.6"/>
<line x1="44.5" y1="361.20" x2="340.0" y2="361.20" stroke="#e8e8e8" stroke-width="0.6"/>
<line x1="44.5" y1="342.60" x2="340.0" y2="342.60" stroke="#e8e8e8" stroke-width="0.6"/>
<line x1="44.5" y1="324.00" x2="340.0" y2="324.00" stroke="#e8e8e8" stroke-width="0.6"/>
<line x1="44.5" y1="305.40" x2="340.0" y2="305.40" stroke="#e8e8e8" stroke-width="0.6"/>
<rect x="44.5" y="305.4" width="295.5" height="93.0" fill="none" stroke="#9a9a9a" stroke-width="0.9"/>
<text transform="translate(44.80 408.6) scale(0.93 1)" text-anchor="middle" font-family="'Liberation Sans',sans-serif" font-size="7.7" fill="#101010" stroke="#101010" stroke-width="0.18">50</text>
<line x1="77.61" y1="398.4" x2="77.61" y2="395.4" stroke="#262626" stroke-width="0.48"/>
<line x1="77.61" y1="305.4" x2="77.61" y2="308.4" stroke="#262626" stroke-width="0.48"/>
<text transform="translate(77.61 408.6) scale(0.93 1)" text-anchor="middle" font-family="'Liberation Sans',sans-serif" font-size="7.7" fill="#101010" stroke="#101010" stroke-width="0.18">100</text>
<line x1="110.43" y1="398.4" x2="110.43" y2="395.4" stroke="#262626" stroke-width="0.48"/>
<line x1="110.43" y1="305.4" x2="110.43" y2="308.4" stroke="#262626" stroke-width="0.48"/>
<text transform="translate(110.43 408.6) scale(0.93 1)" text-anchor="middle" font-family="'Liberation Sans',sans-serif" font-size="7.7" fill="#101010" stroke="#101010" stroke-width="0.18">150</text>
<line x1="143.24" y1="398.4" x2="143.24" y2="395.4" stroke="#262626" stroke-width="0.48"/>
<line x1="143.24" y1="305.4" x2="143.24" y2="308.4" stroke="#262626" stroke-width="0.48"/>
<text transform="translate(143.24 408.6) scale(0.93 1)" text-anchor="middle" font-family="'Liberation Sans',sans-serif" font-size="7.7" fill="#101010" stroke="#101010" stroke-width="0.18">200</text>
<line x1="176.05" y1="398.4" x2="176.05" y2="395.4" stroke="#262626" stroke-width="0.48"/>
<line x1="176.05" y1="305.4" x2="176.05" y2="308.4" stroke="#262626" stroke-width="0.48"/>
<text transform="translate(176.05 408.6) scale(0.93 1)" text-anchor="middle" font-family="'Liberation Sans',sans-serif" font-size="7.7" fill="#101010" stroke="#101010" stroke-width="0.18">250</text>
<line x1="208.87" y1="398.4" x2="208.87" y2="395.4" stroke="#262626" stroke-width="0.48"/>
<line x1="208.87" y1="305.4" x2="208.87" y2="308.4" stroke="#262626" stroke-width="0.48"/>
<text transform="translate(208.87 408.6) scale(0.93 1)" text-anchor="middle" font-family="'Liberation Sans',sans-serif" font-size="7.7" fill="#101010" stroke="#101010" stroke-width="0.18">300</text>
<line x1="241.68" y1="398.4" x2="241.68" y2="395.4" stroke="#262626" stroke-width="0.48"/>
<line x1="241.68" y1="305.4" x2="241.68" y2="308.4" stroke="#262626" stroke-width="0.48"/>
<text transform="translate(241.68 408.6) scale(0.93 1)" text-anchor="middle" font-family="'Liberation Sans',sans-serif" font-size="7.7" fill="#101010" stroke="#101010" stroke-width="0.18">350</text>
<line x1="274.49" y1="398.4" x2="274.49" y2="395.4" stroke="#262626" stroke-width="0.48"/>
<line x1="274.49" y1="305.4" x2="274.49" y2="308.4" stroke="#262626" stroke-width="0.48"/>
<text transform="translate(274.49 408.6) scale(0.93 1)" text-anchor="middle" font-family="'Liberation Sans',sans-serif" font-size="7.7" fill="#101010" stroke="#101010" stroke-width="0.18">400</text>
<line x1="307.31" y1="398.4" x2="307.31" y2="395.4" stroke="#262626" stroke-width="0.48"/>
<line x1="307.31" y1="305.4" x2="307.31" y2="308.4" stroke="#262626" stroke-width="0.48"/>
<text transform="translate(307.31 408.6) scale(0.93 1)" text-anchor="middle" font-family="'Liberation Sans',sans-serif" font-size="7.7" fill="#101010" stroke="#101010" stroke-width="0.18">450</text>
<text transform="translate(340.12 408.6) scale(0.93 1)" text-anchor="middle" font-family="'Liberation Sans',sans-serif" font-size="7.7" fill="#101010" stroke="#101010" stroke-width="0.18">500</text>
<text transform="translate(41.7 401.10) scale(0.93 1)" text-anchor="end" font-family="'Liberation Sans',sans-serif" font-size="7.7" fill="#101010" stroke="#101010" stroke-width="0.18">0.92</text>
<line x1="44.5" y1="379.80" x2="47.5" y2="379.80" stroke="#262626" stroke-width="0.48"/>
<line x1="340.0" y1="379.80" x2="337.0" y2="379.80" stroke="#262626" stroke-width="0.48"/>
<text transform="translate(41.7 382.50) scale(0.93 1)" text-anchor="end" font-family="'Liberation Sans',sans-serif" font-size="7.7" fill="#101010" stroke="#101010" stroke-width="0.18">0.94</text>
<line x1="44.5" y1="361.20" x2="47.5" y2="361.20" stroke="#262626" stroke-width="0.48"/>
<line x1="340.0" y1="361.20" x2="337.0" y2="361.20" stroke="#262626" stroke-width="0.48"/>
<text transform="translate(41.7 363.90) scale(0.93 1)" text-anchor="end" font-family="'Liberation Sans',sans-serif" font-size="7.7" fill="#101010" stroke="#101010" stroke-width="0.18">0.96</text>
<line x1="44.5" y1="342.60" x2="47.5" y2="342.60" stroke="#262626" stroke-width="0.48"/>
<line x1="340.0" y1="342.60" x2="337.0" y2="342.60" stroke="#262626" stroke-width="0.48"/>
<text transform="translate(41.7 345.30) scale(0.93 1)" text-anchor="end" font-family="'Liberation Sans',sans-serif" font-size="7.7" fill="#101010" stroke="#101010" stroke-width="0.18">0.98</text>
<line x1="44.5" y1="324.00" x2="47.5" y2="324.00" stroke="#262626" stroke-width="0.48"/>
<line x1="340.0" y1="324.00" x2="337.0" y2="324.00" stroke="#262626" stroke-width="0.48"/>
<text transform="translate(41.7 326.70) scale(0.93 1)" text-anchor="end" font-family="'Liberation Sans',sans-serif" font-size="7.7" fill="#101010" stroke="#101010" stroke-width="0.18">1</text>
<text transform="translate(41.7 308.10) scale(0.93 1)" text-anchor="end" font-family="'Liberation Sans',sans-serif" font-size="7.7" fill="#101010" stroke="#101010" stroke-width="0.18">1.02</text>
<path d="M44.80 324.9V374.3M42.50 324.9H47.10M42.50 374.3H47.10" stroke="#0000ff" stroke-width="1.5" fill="none"/>
<path d="M77.61 332.8V366.4M75.31 332.8H79.91M75.31 366.4H79.91" stroke="#0000ff" stroke-width="1.5" fill="none"/>
<path d="M110.43 354.2V398.8M108.13 354.2H112.73M108.13 398.8H112.73" stroke="#0000ff" stroke-width="1.5" fill="none"/>
<path d="M143.24 321.8V386.9M140.94 321.8H145.54M140.94 386.9H145.54" stroke="#0000ff" stroke-width="1.5" fill="none"/>
<path d="M208.87 327.1V384M206.57 327.1H211.17M206.57 384H211.17" stroke="#0000ff" stroke-width="1.5" fill="none"/>
<path d="M274.49 340V389.4M272.19 340H276.79M272.19 389.4H276.79" stroke="#0000ff" stroke-width="1.5" fill="none"/>
<path d="M340.12 345.3V393.1M337.82 345.3H342.42M337.82 393.1H342.42" stroke="#0000ff" stroke-width="1.5" fill="none"/>
<polyline points="44.80,349.7 77.61,349.8 110.43,376.2 143.24,354.5 208.87,355.7 274.49,364.8 340.12,369.2" fill="none" stroke="#0000ff" stroke-width="1.5" stroke-linejoin="round"/>
<circle cx="44.80" cy="349.7" r="2.6" fill="#0000ff"/>
<circle cx="77.61" cy="349.8" r="2.6" fill="#0000ff"/>
<circle cx="110.43" cy="376.2" r="2.6" fill="#0000ff"/>
<circle cx="143.24" cy="354.5" r="2.6" fill="#0000ff"/>
<circle cx="208.87" cy="355.7" r="2.6" fill="#0000ff"/>
<circle cx="274.49" cy="364.8" r="2.6" fill="#0000ff"/>
<circle cx="340.12" cy="369.2" r="2.6" fill="#0000ff"/>
<line x1="44.85" y1="324.15" x2="340.0" y2="324.15" stroke="#ff0c0c" stroke-opacity="0.86" stroke-width="1.3" stroke-dasharray="5.5 5.49"/>
<text x="192.2" y="302.1" text-anchor="middle" font-family="'Liberation Sans',sans-serif" font-weight="bold" font-size="11.1" fill="#111">e)</text>
<text x="192.7" y="419.9" text-anchor="middle" font-family="'Liberation Serif',serif" font-weight="bold" font-size="10" fill="#262626">Ensemble Size (Ne)</text>
<text transform="translate(23.7 351.9) rotate(-90)" text-anchor="middle" font-style="italic" font-family="'Liberation Serif',serif" font-weight="bold" font-size="10" fill="#262626">μ</text>
</g>
<rect x="419.4" y="323.9" width="82.2" height="20.8" fill="#fff" stroke="#8c8c8c" stroke-width="0.9"/>
<line x1="422.7" y1="329.7" x2="443.7" y2="329.7" stroke="#0000ff" stroke-width="1.5"/>
<path d="M433.4 326.6V333.1M431.2 326.6H435.6M431.2 333.1H435.6" stroke="#0000ff" stroke-width="1.5" fill="none"/>
<circle cx="433.4" cy="329.8" r="2.5" fill="#0000ff"/>
<line x1="422.3" y1="339.0" x2="443.7" y2="339.0" stroke="#ff0c0c" stroke-opacity="0.86" stroke-width="1.4" stroke-dasharray="5.8 5.4"/>
<text x="446.3" y="332.3" font-family="'Liberation Serif',serif" font-size="7.9" fill="#111">Median ± IQR/2</text>
<text x="446.3" y="341.7" font-family="'Liberation Serif',serif" font-size="7.9" fill="#111">True Parameter</text>
</g>
</svg>
</body></html>
